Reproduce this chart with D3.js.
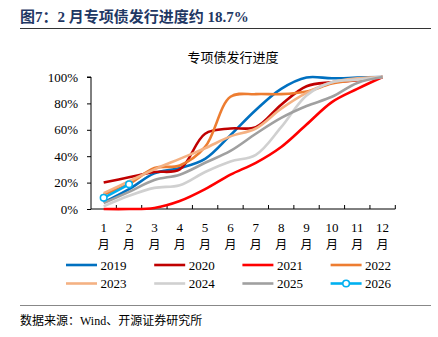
<!DOCTYPE html>
<html>
<head>
<meta charset="utf-8">
<script src="https://cdn.jsdelivr.net/npm/d3@7"></script>
<style>
  body { margin: 0; background: #fff; }
  svg { display: block; font-family: "Liberation Serif", "Noto Sans CJK SC", serif; }
</style>
</head>
<body>
<svg width="438" height="337"></svg>
<script>
// 专项债发行进度 (%)
let months = ['1', '2', '3', '4', '5', '6', '7', '8', '9', '10', '11', '12']
let yTicks = [0, 20, 40, 60, 80, 100]

let s2019 = [5, 15, 27, 31, 38, 56, 75, 91, 99.6, 99, 99.5, 100]
let s2020 = [20, 24, 28, 30, 57, 61, 62, 79, 93, 96, 97.5, 100]
let s2021 = [0, 0, 0.8, 6, 15, 26, 35, 47, 64, 81, 91, 100]
let s2022 = [11, 19, 31, 33, 47, 85, 87, 87, 89, 95, 98, 100]
let s2023 = [12, 21, 30, 38, 46, 55, 61, 76, 88, 96, 99, 100]
let s2024 = [2, 10, 16, 18, 28, 36, 41, 62, 86, 96, 98, 100]
let s2025 = [4.5, 13, 22, 26, 35, 44, 57, 69, 78, 85, 95.5, 100]
let s2026 = [8.5, 18.7]

let series = [
  { name: '2019', values: s2019, color: '#0070C0' },
  { name: '2020', values: s2020, color: '#C00000' },
  { name: '2021', values: s2021, color: '#FF0000' },
  { name: '2022', values: s2022, color: '#ED7D31' },
  { name: '2023', values: s2023, color: '#F4B183' },
  { name: '2024', values: s2024, color: '#D0D0D0' },
  { name: '2025', values: s2025, color: '#A0A0A0' },
  { name: '2026', values: s2026, color: '#00B0F0', marker: true }
]

let svg = d3.select('svg')

// header
svg.append('text')
  .attr('x', 20).attr('y', 22)
  .attr('fill', '#1F3864')
  .attr('font-size', 15).attr('font-weight', 'bold')
  .text('图7：2 月专项债发行进度约 18.7%')
svg.append('line')
  .attr('x1', 20).attr('x2', 431).attr('y1', 28.5).attr('y2', 28.5)
  .attr('stroke', '#333').attr('stroke-width', 1)

svg.append('text')
  .attr('x', 233).attr('y', 62)
  .attr('text-anchor', 'middle').attr('font-size', 13).attr('fill', '#000')
  .text('专项债发行进度')

let x = d3.scaleBand().domain(months).range([91, 395.3])
let y = d3.scaleLinear().domain([0, 100]).range([209, 77])

let g = svg.append('g')

// y axis
let yAxis = g.append('g').attr('transform', 'translate(91,0)')
  .call(d3.axisLeft(y).tickValues(yTicks).tickSize(4).tickFormat(function(d) { return d + '%' }))
yAxis.select('.domain').attr('d', 'M-4,' + y(100) + 'H0V' + y(0)).attr('stroke', '#000')
yAxis.selectAll('.tick line').attr('stroke', '#000')
yAxis.selectAll('.tick text').attr('x', -13).attr('font-size', 13)
  .attr('font-family', '"Liberation Serif", serif').attr('fill', '#000')

// x axis
g.append('line')
  .attr('x1', 91).attr('x2', 395.3).attr('y1', y(0)).attr('y2', y(0))
  .attr('stroke', '#000')
g.selectAll('.xtick')
  .data(months)
  .enter()
  .append('line')
    .attr('class', 'xtick')
    .attr('x1', function(d) { return x(d) + x.bandwidth() }).attr('x2', function(d) { return x(d) + x.bandwidth() })
    .attr('y1', y(0)).attr('y2', y(0) - 4)
    .attr('stroke', '#000')

let xl = g.selectAll('.xlab')
  .data(months)
  .enter()
  .append('g')
    .attr('class', 'xlab')
    .attr('transform', function(d) { return 'translate(' + (x(d) + x.bandwidth() / 2) + ',0)' })
xl.append('text').attr('y', 232).attr('text-anchor', 'middle').attr('font-size', 13)
  .text(function(d) { return d })
xl.append('text').attr('y', 249).attr('text-anchor', 'middle').attr('font-size', 12)
  .text('月')

// lines
let line = d3.line()
  .x(function(d, i) { return x(months[i]) + x.bandwidth() / 2 })
  .y(function(d) { return y(d) })
  .curve(d3.curveCatmullRom.alpha(0.5))

g.selectAll('.series')
  .data(series)
  .enter()
  .append('path')
    .attr('class', 'series')
    .attr('d', function(d) { return line(d.values) })
    .attr('fill', 'none')
    .attr('stroke', function(d) { return d.color })
    .attr('stroke-width', 2.6)

let last = series[series.length - 1]
g.selectAll('.dot')
  .data(last.values)
  .enter()
  .append('circle')
    .attr('cx', function(d, i) { return x(months[i]) + x.bandwidth() / 2 })
    .attr('cy', function(d) { return y(d) })
    .attr('r', 3.3)
    .attr('fill', '#fff')
    .attr('stroke', last.color)
    .attr('stroke-width', 1.6)

// legend
let lg = svg.selectAll('.legend')
  .data(series)
  .enter()
  .append('g')
    .attr('class', 'legend')
    .attr('transform', function(d, i) { return 'translate(' + (66 + (i % 4) * 88.2) + ',' + (265 + Math.floor(i / 4) * 18.5) + ')' })
lg.append('line')
  .attr('x1', 0).attr('x2', 31)
  .attr('stroke', function(d) { return d.color }).attr('stroke-width', 2.6)
lg.filter(function(d) { return d.marker }).append('circle')
  .attr('cx', 15.5).attr('r', 3.3).attr('fill', '#fff')
  .attr('stroke', function(d) { return d.color }).attr('stroke-width', 1.6)
lg.append('text')
  .attr('x', 34.5).attr('y', 4.5).attr('font-size', 13)
  .text(function(d) { return d.name })

// footer
svg.append('line')
  .attr('x1', 20).attr('x2', 431).attr('y1', 305.5).attr('y2', 305.5)
  .attr('stroke', '#888').attr('stroke-width', 1)
svg.append('text')
  .attr('x', 20).attr('y', 325)
  .attr('font-size', 12).attr('fill', '#000')
  .text('数据来源：Wind、开源证券研究所')
</script>
</body>
</html>
